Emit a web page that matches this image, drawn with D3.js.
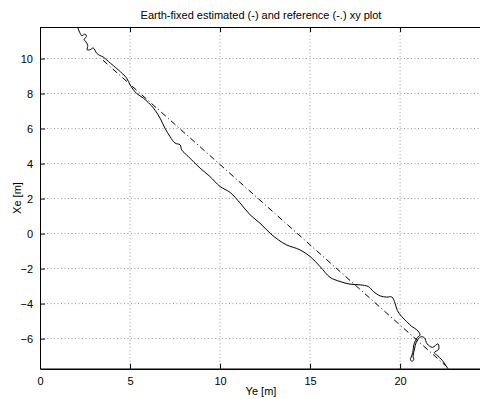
<!DOCTYPE html>
<html>
<head>
<meta charset="utf-8">
<script src="https://cdn.jsdelivr.net/npm/d3@7"></script>
<style>
  body { margin: 0; background: #fff; }
  svg { font-family: "Liberation Sans", Arial, sans-serif; }
</style>
</head>
<body>
<div id="chart"></div>
<script>
// estimated track (Ye, Xe) in metres
const estYe = [2.0, 2.1, 2.2, 2.32, 2.5, 2.58, 2.45, 2.55, 2.65, 2.62, 2.78, 2.96, 3.15, 3.33, 3.52, 3.8,
  4.35, 4.81, 5.0, 5.37, 5.74, 6.3, 6.67, 6.94, 7.22, 7.5, 7.78, 7.87, 8.24, 8.89, 9.44, 10.0,
  10.56, 11.11, 11.67, 12.22, 12.78, 13.24, 13.7, 14.44, 15.0, 15.56, 16.11, 16.67, 17.22, 17.78,
  18.24, 18.52, 18.89, 19.26, 19.54, 19.72, 19.85, 20.09, 20.37, 20.65, 20.93, 21.11,
  20.95, 20.78, 20.7, 20.62, 20.58, 20.66, 20.76, 20.72, 20.8, 20.9, 21.15, 21.35, 21.5, 21.8,
  22.1, 22.15, 21.9, 22.05, 22.35, 22.55, 22.75];
const estXe = [12.0, 11.75, 11.5, 11.3, 11.4, 11.25, 11.1, 10.95, 10.75, 10.5, 10.5, 10.6, 10.3, 10.17, 10.08, 9.83,
  9.35, 8.88, 8.5, 8.0, 7.74, 7.17, 6.59, 6.02, 5.54, 5.17, 5.07, 4.78, 4.4, 3.74, 3.26, 2.69,
  2.35, 1.75, 1.07, 0.59, 0.02, -0.36, -0.65, -0.93, -1.31, -1.89, -2.5, -2.74, -2.89, -2.93,
  -3.03, -3.31, -3.56, -3.63, -3.62, -3.98, -4.4, -4.74, -5.03, -5.31, -5.5, -5.79,
  -5.95, -6.3, -6.8, -7.05, -7.2, -7.3, -7.2, -7.0, -6.6, -6.2, -5.9, -5.95, -6.3, -6.5,
  -6.3, -6.6, -6.8, -6.95, -7.25, -7.55, -7.85];

// reference track
const refYe = [3.5, 22.75];
const refXe = [9.9, -7.75];

const xTicks = [0, 5, 10, 15, 20];
const yTicks = [-6, -4, -2, 0, 2, 4, 6, 8, 10];
const xDomain = [0, 24.55];
const yDomain = [-7.72, 11.8];

const width = 480, height = 399;
const margin = { top: 27, right: -2, bottom: 30, left: 40 };

const svg = d3.select('#chart').append('svg')
    .attr('width', width)
    .attr('height', height);

const x = d3.scaleLinear().domain(xDomain).range([margin.left, width - margin.right]);
const y = d3.scaleLinear().domain(yDomain).range([height - margin.bottom - 0.3, margin.top]);

// grid
svg.append('g')
    .selectAll('line')
    .data(xTicks.slice(1))
    .join('line')
    .attr('x1', d => x(d)).attr('x2', d => x(d))
    .attr('y1', y(yDomain[0])).attr('y2', y(yDomain[1]))
    .attr('stroke', '#999').attr('stroke-dasharray', '1,2.5');

svg.append('g')
    .selectAll('line')
    .data(yTicks)
    .join('line')
    .attr('x1', x(xDomain[0])).attr('x2', x(xDomain[1]))
    .attr('y1', d => y(d)).attr('y2', d => y(d))
    .attr('stroke', '#999').attr('stroke-dasharray', '1,2.5');

// clip
svg.append('clipPath').attr('id', 'clip')
    .append('rect')
    .attr('x', x(xDomain[0])).attr('y', y(yDomain[1]))
    .attr('width', x(xDomain[1]) - x(xDomain[0]))
    .attr('height', y(yDomain[0]) - y(yDomain[1]));

const line = d3.line().x(d => x(d[0])).y(d => y(d[1]));

svg.append('path')
    .datum(refYe.map((v, i) => [v, refXe[i]]))
    .attr('clip-path', 'url(#clip)')
    .attr('d', line)
    .attr('fill', 'none')
    .attr('stroke', '#000')
    .attr('stroke-width', 1)
    .attr('stroke-dasharray', '6,3,1,3');

svg.append('path')
    .datum(estYe.map((v, i) => [v, estXe[i]]))
    .attr('clip-path', 'url(#clip)')
    .attr('d', d3.line().x(d => x(d[0])).y(d => y(d[1])).curve(d3.curveCatmullRom))
    .attr('fill', 'none')
    .attr('stroke', '#000')
    .attr('stroke-width', 1);

// axes
const axBottom = svg.append('g')
    .attr('transform', `translate(0,${y(yDomain[0])})`)
    .call(d3.axisBottom(x).tickValues(xTicks).tickSizeInner(-5).tickSizeOuter(0).tickPadding(9));
const axTop = svg.append('g')
    .attr('transform', `translate(0,${y(yDomain[1])})`)
    .call(d3.axisTop(x).tickValues(xTicks).tickSizeInner(-5).tickSizeOuter(0).tickFormat(''));
const axLeft = svg.append('g')
    .attr('transform', `translate(${x(xDomain[0])},0)`)
    .call(d3.axisLeft(y).tickValues(yTicks).tickSizeInner(-5).tickSizeOuter(0).tickPadding(7));

[axBottom, axTop, axLeft].forEach(g => {
    g.select('.domain').attr('stroke', '#000');
    g.selectAll('.tick line').attr('stroke', '#000');
    g.selectAll('text')
        .attr('font-family', '"Liberation Sans", Arial, sans-serif')
        .attr('font-size', '11px')
        .attr('fill', '#000');
});
axBottom.select('.domain').attr('stroke-width', 1.5);

svg.append('text')
    .attr('x', 261)
    .attr('y', 19)
    .attr('text-anchor', 'middle')
    .attr('font-size', '11px')
    .text('Earth-fixed estimated (-) and reference (-.) xy plot');

svg.append('text')
    .attr('x', 261)
    .attr('y', 395)
    .attr('text-anchor', 'middle')
    .attr('font-size', '11px')
    .text('Ye [m]');

svg.append('text')
    .attr('transform', 'rotate(-90)')
    .attr('x', -198)
    .attr('y', 21)
    .attr('text-anchor', 'middle')
    .attr('font-size', '11px')
    .text('Xe [m]');
</script>
</body>
</html>
